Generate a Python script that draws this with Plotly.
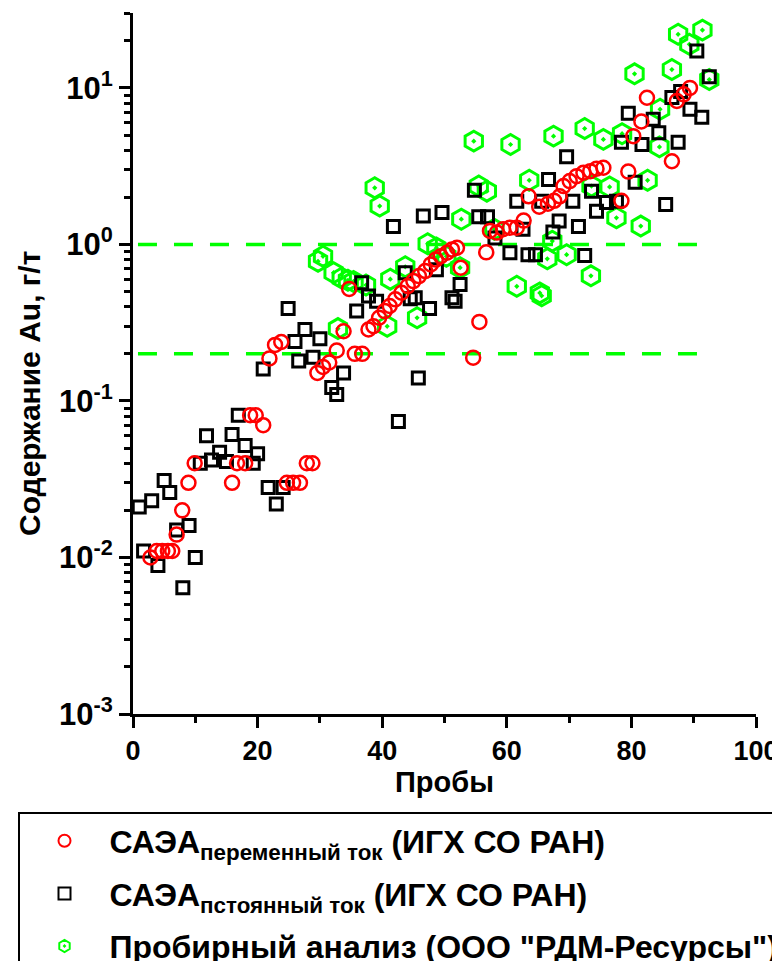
import plotly.graph_objects as go

# ---- data ----
red_x = [2.8, 3.8, 4.7, 5.6, 6.3, 7.0, 7.9, 8.9, 9.9,
         15.9, 16.7, 18.0, 18.8, 19.7, 20.9, 21.9, 22.8, 23.8,
         24.7, 25.7, 26.8, 27.9, 28.8,
         29.6, 30.5, 31.5, 32.7, 33.8, 34.7, 35.6, 36.8,
         37.8, 38.6, 39.5, 40.4, 41.2, 42.1, 43.1, 44.1, 45.0, 45.9, 46.9, 47.8, 48.6, 49.4, 50.4, 51.2, 52.0, 52.6,
         54.6, 55.6, 56.7, 57.3, 58.4, 59.4, 60.5, 61.6, 62.7, 63.5,
         65.2, 66.6, 67.6, 68.5, 69.1, 70.1, 71.2, 72.3, 73.4, 74.4, 75.5,
         78.4, 79.5, 80.3, 81.6, 82.5, 86.5, 87.3, 88.4, 89.4]
red_y = [0.010, 0.011, 0.011, 0.011, 0.011, 0.014, 0.020, 0.030, 0.040,
         0.030, 0.040, 0.040, 0.081, 0.081, 0.070, 0.187, 0.228, 0.238,
         0.030, 0.030, 0.030, 0.040, 0.040,
         0.151, 0.165, 0.176, 0.210, 0.279, 0.52, 0.200, 0.200,
         0.286, 0.30, 0.34, 0.375, 0.404, 0.446, 0.491, 0.542, 0.583, 0.628, 0.676, 0.745, 0.80, 0.84, 0.885, 0.929, 0.953, 0.71,
         0.189, 0.32, 0.89, 1.22, 1.19, 1.25, 1.28, 1.28, 1.42, 2.03,
         1.74, 1.82, 1.90, 2.03, 2.36, 2.54, 2.73, 2.87, 2.94, 3.05, 3.09,
         1.90, 2.92, 4.92, 6.1, 8.65, 3.4, 8.25, 9.1, 10.0]

black_x = [1.0, 1.7, 3.0, 4.0, 5.0, 5.9, 7.0, 8.0, 9.0, 10.0,
           10.8, 11.8, 12.6, 13.9, 15.0, 15.9, 16.9, 18.0, 19.3, 20.0,
           20.9, 21.7, 23.0, 24.1, 24.9, 26.0, 26.6, 27.6, 28.9, 30.0,
           31.9, 32.7, 33.8, 35.9, 36.7, 37.8, 39.1,
           41.8, 42.6, 43.7, 44.5, 45.3, 45.8, 46.6, 47.6, 48.7, 49.6,
           51.2, 51.7, 52.5, 54.8, 55.5, 56.9, 58.1, 60.5, 61.6, 62.6,
           63.4, 64.6, 65.6, 66.7, 67.4, 68.4, 69.6, 70.6, 71.5, 72.5,
           73.6, 74.4, 76.0, 77.6, 78.4, 79.5, 80.6, 81.7, 83.5, 84.4,
           85.5, 86.5, 87.5, 87.9, 89.4, 90.5, 91.3, 92.5]
black_y = [0.021, 0.011, 0.023, 0.0089, 0.031, 0.026, 0.015, 0.0064, 0.016, 0.010,
           0.040, 0.060, 0.042, 0.047, 0.041, 0.061, 0.081, 0.052, 0.040, 0.046,
           0.160, 0.028, 0.022, 0.028, 0.39, 0.24, 0.18, 0.286, 0.19, 0.25,
           0.122, 0.110, 0.151, 0.375, 0.569, 0.468, 0.434,
           1.30, 0.074, 0.66, 0.45, 0.456, 0.14, 1.52, 0.39, 0.69, 1.60,
           0.457, 0.434, 0.555, 2.22, 1.50, 1.50, 1.10, 0.885, 1.89, 1.25,
           0.86, 0.86, 1.89, 2.6, 1.20, 1.41, 3.63, 1.89, 1.30, 0.85,
           2.19, 1.63, 1.85, 1.89, 4.5, 6.9, 2.5, 4.35, 6.3, 5.17,
           1.8, 8.7, 4.5, 9.5, 7.3, 17.2, 6.5, 11.8]

green_x = [29.7, 30.5, 32.2, 32.9, 33.5, 34.5, 35.4, 37.4, 38.8, 39.6,
           40.8, 41.3, 43.7, 45.6, 47.3, 48.7, 50.3, 52.5, 52.7, 54.7,
           55.5, 56.8, 58.0, 60.6, 61.6, 63.6, 65.3, 65.6, 66.5, 67.3,
           67.5, 69.6, 72.5, 73.5, 73.6, 75.5, 76.5, 77.6, 78.5, 80.5,
           81.5, 82.6, 84.5, 84.6, 86.5, 87.5, 89.3, 91.4, 92.5]
green_y = [0.78, 0.84, 0.66, 0.29, 0.61, 0.59, 0.58, 0.55, 2.30, 1.76,
           0.30, 0.60, 0.72, 0.34, 1.01, 0.95, 0.84, 0.71, 1.45, 4.57,
           2.36, 2.19, 1.25, 4.35, 0.54, 2.57, 0.49, 0.47, 0.81, 1.05,
           4.92, 0.86, 5.5, 0.63, 2.36, 4.69, 2.33, 1.48, 5.1, 12.3,
           1.31, 2.57, 4.2, 7.3, 13.1, 22.0, 19.0, 23.4, 11.3]

threshold_levels = [1.0, 0.2]
threshold_x_span = [0.8, 92.3]

y_major = [0.001, 0.01, 0.1, 1, 10]
y_major_text = ["10<sup>-3</sup>", "10<sup>-2</sup>", "10<sup>-1</sup>", "10<sup>0</sup>", "10<sup>1</sup>"]
y_minor = [m * d for d in [0.001, 0.01, 0.1, 1, 10] for m in range(2, 10) if m * d <= 30.5]

name_red = "САЭА<sub>переменный ток</sub> (ИГХ СО РАН)"
name_black = "САЭА<sub>пстоянный ток</sub> (ИГХ СО РАН)"
name_green = "Пробирный анализ (ООО \"РДМ-Ресурсы\")"
y_title = "Содержание Au, г/т"
x_title = "Пробы"

FONT = "Liberation Sans, Arial, sans-serif"

# page body adds an 8px offset; figure sized so that it fills the window exactly
W, H = 772, 953

fig = go.Figure()

for lvl in threshold_levels:
    fig.add_trace(go.Scatter(
        x=threshold_x_span, y=[lvl, lvl], mode="lines",
        line=dict(color="#00FF00", width=3.5, dash="19px,17px"),
        showlegend=False, hoverinfo="skip"))

fig.add_trace(go.Scatter(
    x=green_x, y=green_y, mode="markers", name=name_green, legendgroup="g", legendrank=3,
    marker=dict(symbol="hexagon-open-dot", size=20, color="#00FF00",
                line=dict(color="#00FF00", width=3))))
fig.add_trace(go.Scatter(
    x=black_x, y=black_y, mode="markers", name=name_black, legendgroup="b", legendrank=2,
    marker=dict(symbol="square-open", size=12, color="black",
                line=dict(color="black", width=3))))
fig.add_trace(go.Scatter(
    x=red_x, y=red_y, mode="markers", name=name_red, legendgroup="r", legendrank=1,
    marker=dict(symbol="circle-open", size=14, color="#FF0000",
                line=dict(color="#FF0000", width=2.5))))

fig.add_annotation(
    text=y_title, textangle=-90, showarrow=False,
    xref="paper", yref="paper", x=-0.1653, y=0.4565, xanchor="center", yanchor="middle",
    font=dict(family=FONT, size=30, color="black", weight="bold"))

fig.update_layout(
    width=W, height=H,
    margin=dict(l=125, r=24, t=5, b=247, autoexpand=False),
    plot_bgcolor="white", paper_bgcolor="white",
    font=dict(family=FONT, color="black"),
    showlegend=True,
    legend=dict(
        xref="container", yref="container",
        x=10 / W, y=1 - 804 / H, xanchor="left", yanchor="top",
        bordercolor="black", borderwidth=1.5, bgcolor="white",
        font=dict(family=FONT, size=32, color="black", weight="bold"),
        itemsizing="constant", itemwidth=80, tracegroupgap=8,
        traceorder="grouped",
    ),
    xaxis=dict(
        range=[0, 100], showgrid=False, zeroline=False,
        showline=True, linecolor="black", linewidth=3,
        ticks="outside", ticklen=11, tickwidth=3, tickcolor="black",
        tick0=0, dtick=20,
        minor=dict(dtick=10, ticks="outside", ticklen=6, tickwidth=3, tickcolor="black"),
        tickfont=dict(family=FONT, size=27, color="black", weight="bold"),
        title=dict(text=x_title, font=dict(family=FONT, size=29, color="black", weight="bold"), standoff=1),
    ),
    yaxis=dict(
        type="log", range=[-3, 1.4786], showgrid=False, zeroline=False,
        showline=True, linecolor="black", linewidth=3,
        ticks="outside", ticklen=11, tickwidth=3, tickcolor="black",
        tickmode="array", tickvals=y_major, ticktext=y_major_text,
        minor=dict(tickmode="array", tickvals=y_minor, ticks="outside", ticklen=6, tickwidth=3, tickcolor="black"),
        tickfont=dict(family=FONT, size=31, color="black", weight="bold"),
    ),
)

fig.write_html("out.html")
